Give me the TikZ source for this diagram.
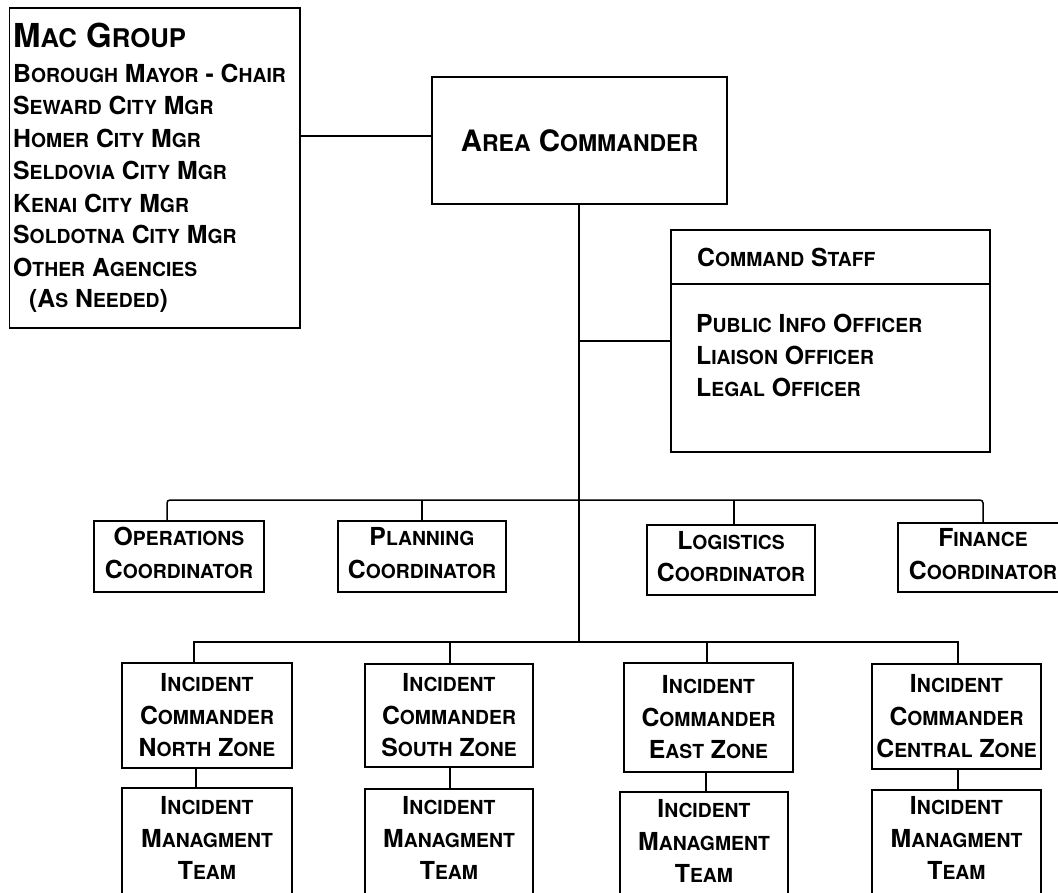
\documentclass[tikz,border=0pt]{standalone}
\usepackage{fontspec}
\setmainfont{TeX Gyre Heros}
\newfontfamily\scf{TeX Gyre Heros}[Scale=0.78]
\def\swA#1#2\relax{#1{\scf\MakeUppercase{#2}}}
\newcommand\sw[1]{\swA#1\relax}
\tikzset{
  box/.style={draw, line width=1.5pt, inner sep=0pt, align=center,
    font=\fontsize{24.8}{32.5}\selectfont\bfseries},
  coord/.style={box, text depth=7pt},
  ctr/.style={inner sep=0pt, align=center,
    font=\fontsize{24.8}{32.5}\selectfont\bfseries},
  ln/.style={line width=1.5pt},
  txt/.style={inner sep=0pt, anchor=base west,
    font=\fontsize{24.8}{32.5}\selectfont\bfseries}
}
\begin{document}
\begin{tikzpicture}[x=1pt,y=-1pt]
\useasboundingbox (0,0) rectangle (1058,892);
% MAC group
\node[box, minimum width=290.5, minimum height=320] (mac) at (154.75,168) {};
\node[txt, font=\fontsize{33}{33}\selectfont\bfseries] (m0) at (13,47) {\sw{Mac} \sw{Group}};
\node[txt] (m1) at (13,82) {\sw{Borough} \sw{Mayor} - \sw{Chair}};
\node[txt] (m2) at (13,114) {\sw{Seward} \sw{City} \sw{Mgr}};
\node[txt] (m3) at (13,147) {\sw{Homer} \sw{City} \sw{Mgr}};
\node[txt] (m4) at (13,179) {\sw{Seldovia} \sw{City} \sw{Mgr}};
\node[txt] (m5) at (13,212) {\sw{Kenai} \sw{City} \sw{Mgr}};
\node[txt] (m6) at (13,243) {\sw{Soldotna} \sw{City} \sw{Mgr}};
\node[txt] (m7) at (13,276) {\sw{Other} \sw{Agencies}};
\node[txt] (m8) at (29,307) {(A{\scf S} \sw{Needed})};
% Area commander
\node[box, minimum width=295, minimum height=127,
  font=\fontsize{29.5}{30}\selectfont\bfseries] (ac) at (579.5,140.5) {\sw{Area} \sw{Commander}};
% Command staff
\node[box, minimum width=319, minimum height=222] (cs) at (830.5,341) {};
\coordinate (sepl) at (671,284);
\coordinate (sepr) at (990,284);
\draw[ln] (sepl) -- (sepr);
\node[txt] (csh) at (697,266) {\sw{Command} \sw{Staff}};
\node[txt] (cs1) at (696,332) {\sw{Public} \sw{Info} \sw{Officer}};
\node[txt] (cs2) at (696,364) {\sw{Liaison} \sw{Officer}};
\node[txt] (cs3) at (696,396) {\sw{Legal} \sw{Officer}};
% coordinators
\node[coord, minimum width=170, minimum height=71] (ops) at (179,556.5) {\sw{Operations}\\\sw{Coordinator}};
\node[coord, minimum width=168, minimum height=71] (pln) at (422,556.5) {\sw{Planning}\\\sw{Coordinator}};
\node[coord, minimum width=168, minimum height=70] (log) at (731,560) {\sw{Logistics}\\\sw{Coordinator}};
\node[coord, minimum width=170, minimum height=69] (fin) at (983,557.5) {\sw{Finance}\\\sw{Coordinator}};
% incident commanders
\node[box, minimum width=170, minimum height=105] (icn) at (207,715.5) {\sw{Incident}\\\sw{Commander}\\\sw{North} \sw{Zone}};
\node[box, minimum width=168, minimum height=103] (ics) at (449,715.5) {\sw{Incident}\\\sw{Commander}\\\sw{South} \sw{Zone}};
\node[box, minimum width=169, minimum height=109] (ice) at (708.5,717.5) {\sw{Incident}\\\sw{Commander}\\\sw{East} \sw{Zone}};
\node[box, minimum width=169, minimum height=105] (icc) at (956.5,716.5) {\sw{Incident}\\\sw{Commander}\\\sw{Central} \sw{Zone}};
% incident management teams
\node[box, minimum width=170, minimum height=130] (imn) at (207,853) {};
\node[box, minimum width=168, minimum height=130] (ims) at (449,854) {};
\node[box, minimum width=168, minimum height=130] (ime) at (704,857) {};
\node[box, minimum width=169, minimum height=130] (imc) at (956.5,855) {};
\node[ctr] (imnt) at (207,838) {\sw{Incident}\\\sw{Managment}\\\sw{Team}};
\node[ctr] (imst) at (449,838) {\sw{Incident}\\\sw{Managment}\\\sw{Team}};
\node[ctr] (imet) at (704,841) {\sw{Incident}\\\sw{Managment}\\\sw{Team}};
\node[ctr] (imct) at (956.5,838) {\sw{Incident}\\\sw{Managment}\\\sw{Team}};
% connectors
\coordinate (macj) at (300,136);
\draw[ln] (macj) -- (macj -| ac.west);
\coordinate (ib) at (579,642);
\coordinate (csj) at (579,341);
\draw[ln] (ac.south -| ib) -- (ib);
\draw[ln] (csj) -- (csj -| cs.west);
\coordinate (cb1) at (167,500);
\coordinate (cb2) at (422,500);
\coordinate (cb3) at (734,500);
\coordinate (cb4) at (983,500);
\draw[ln, rounded corners=3pt] (cb1 |- ops.north) -- (cb1) -- (cb4) -- (cb4 |- fin.north);
\draw[ln] (cb2) -- (cb2 |- pln.north);
\draw[ln] (cb3) -- (cb3 |- log.north);
\coordinate (ib1) at (194,642);
\coordinate (ib2) at (450,642);
\coordinate (ib3) at (707,642);
\coordinate (ib4) at (958,642);
\draw[ln] (ib1 |- icn.north) -- (ib1) -- (ib4) -- (ib4 |- icc.north);
\draw[ln] (ib2) -- (ib2 |- ics.north);
\draw[ln] (ib3) -- (ib3 |- ice.north);
\coordinate (t1) at (196,0);
\coordinate (t2) at (450,0);
\coordinate (t3) at (706,0);
\coordinate (t4) at (958,0);
\draw[ln] (t1 |- icn.south) -- (t1 |- imn.north);
\draw[ln] (t2 |- ics.south) -- (t2 |- ims.north);
\draw[ln] (t3 |- ice.south) -- (t3 |- ime.north);
\draw[ln] (t4 |- icc.south) -- (t4 |- imc.north);
\end{tikzpicture}
\end{document}
